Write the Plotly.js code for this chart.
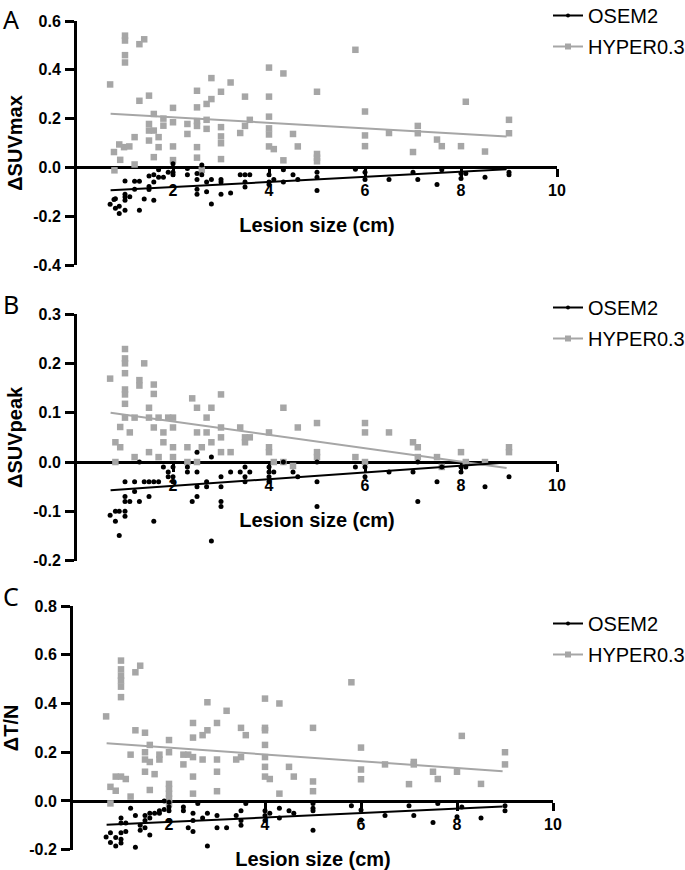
<!DOCTYPE html>
<html><head><meta charset="utf-8">
<script src="https://cdn.plot.ly/plotly-3.0.1.min.js"></script>
<style>html,body{margin:0;padding:0;background:#fff}#chart{width:685px;height:870px}</style>
</head><body><div id="chart"></div>
<script>
// ---------- DATA ----------
const seriesNames = ['OSEM2', 'HYPER0.3'];
const panelLabels = ['A', 'B', 'C'];
const yTitles = ['ΔSUVmax', 'ΔSUVpeak', 'ΔT/N'];
const xTitle = 'Lesion size (cm)';
const xTickVals = [2, 4, 6, 8, 10];
const xTickText = ['2', '4', '6', '8', '10'];
const yTickValsA = [-0.4, -0.2, 0, 0.2, 0.4, 0.6];
const yTickTextA = ['-0.4', '-0.2', '0.0', '0.2', '0.4', '0.6'];
const yTickValsB = [-0.2, -0.1, 0, 0.1, 0.2, 0.3];
const yTickTextB = ['-0.2', '-0.1', '0.0', '0.1', '0.2', '0.3'];
const yTickValsC = [-0.2, 0, 0.2, 0.4, 0.6, 0.8];
const yTickTextC = ['-0.2', '0.0', '0.2', '0.4', '0.6', '0.8'];

// Panel A: [lesion size, ΔSUVmax]
const aHyper = [[0.69,0.34],[0.77,0.063],[0.78,-0.012],[0.88,0.094],[0.9,0.031],[1.0,0.54],[1.0,0.52],[1.0,0.46],[1.0,0.43],[0.98,0.083],[1.09,0.086],[1.2,0.124],[1.2,0.012],[1.3,0.273],[1.3,0.505],[1.4,0.525],[1.5,0.294],[1.5,0.178],[1.5,0.151],[1.5,0.11],[1.6,0.219],[1.6,0.151],[1.6,0.042],[1.7,0.124],[1.7,0.083],[1.8,0.2],[1.8,0.171],[2.0,0.244],[2.0,0.185],[2.0,0.086],[2.0,0.03],[2.3,0.178],[2.3,0.137],[2.5,0.314],[2.5,0.246],[2.5,0.19],[2.5,0.17],[2.5,0.083],[2.5,0.04],[2.6,-0.01],[2.7,0.26],[2.7,0.195],[2.7,0.158],[2.8,0.28],[2.8,0.366],[3.0,0.31],[3.0,0.165],[3.0,0.127],[3.0,0.099],[3.0,0.034],[3.2,0.348],[3.4,0.141],[3.5,0.17],[3.5,0.29],[3.6,0.195],[4.0,0.409],[4.0,0.29],[4.0,0.208],[4.0,0.16],[4.0,0.135],[4.0,0.086],[4.1,0.075],[4.3,0.385],[4.3,0.029],[4.5,0.137],[4.6,0.086],[5.0,0.31],[5.0,0.055],[5.0,0.04],[5.0,0.025],[5.8,0.482],[6.0,0.229],[6.0,0.131],[6.0,0.087],[6.5,0.141],[7.0,0.063],[7.1,0.17],[7.1,0.14],[7.5,0.114],[7.6,0.087],[8.0,0.087],[8.1,0.269],[8.5,0.065],[9.0,0.195],[9.0,0.14]];
const aOsem = [[0.69,-0.151],[0.77,-0.132],[0.8,-0.128],[0.8,-0.167],[0.88,-0.159],[0.88,-0.189],[1.0,-0.176],[1.0,-0.135],[1.0,-0.121],[1.0,-0.11],[1.0,-0.056],[1.1,-0.12],[1.2,-0.057],[1.2,-0.09],[1.3,-0.057],[1.3,-0.176],[1.4,-0.13],[1.5,-0.078],[1.5,-0.091],[1.5,-0.035],[1.6,-0.135],[1.6,-0.06],[1.6,-0.03],[1.7,-0.01],[1.7,-0.04],[1.8,-0.04],[1.9,-0.02],[2.0,0.015],[2.0,-0.02],[2.0,-0.03],[2.3,-0.03],[2.3,-0.004],[2.5,-0.025],[2.5,-0.05],[2.5,-0.09],[2.5,-0.11],[2.6,0.01],[2.6,-0.03],[2.7,-0.06],[2.7,-0.1],[2.8,-0.05],[2.8,-0.15],[3.0,-0.05],[3.0,-0.06],[3.0,-0.11],[3.2,-0.105],[3.4,-0.03],[3.5,-0.03],[3.5,-0.06],[3.5,-0.08],[3.6,-0.03],[4.0,-0.03],[4.0,-0.06],[4.0,-0.07],[4.1,-0.05],[4.3,-0.01],[4.3,-0.06],[4.5,-0.03],[4.6,-0.05],[5.0,-0.02],[5.0,-0.04],[5.0,-0.095],[5.8,-0.008],[6.0,-0.02],[6.0,-0.05],[6.5,-0.05],[7.0,-0.02],[7.1,-0.05],[7.5,-0.07],[7.6,-0.01],[8.0,-0.025],[8.0,-0.045],[8.1,-0.025],[8.5,-0.04],[9.0,-0.02],[9.0,-0.03]];
const aFitX = [0.7, 8.95];
const aHyperFit = [0.22, 0.127];
const aOsemFit = [-0.094, -0.008];

// Panel B: [lesion size, ΔSUVpeak]
const bHyper = [[0.69,0.169],[0.8,0.04],[0.8,0.0],[0.9,0.071],[0.9,0.03],[1.0,0.229],[1.0,0.21],[1.0,0.2],[1.0,0.18],[1.0,0.147],[1.0,0.137],[1.0,0.118],[1.0,0.09],[1.1,0.06],[1.2,0.09],[1.2,0.01],[1.3,0.166],[1.3,0.155],[1.4,0.2],[1.5,0.11],[1.5,0.09],[1.5,0.02],[1.6,0.157],[1.6,0.138],[1.6,0.07],[1.7,0.09],[1.7,0.01],[1.8,0.06],[1.8,0.04],[1.9,0.09],[2.0,0.09],[2.0,0.07],[2.0,0.03],[2.0,0.01],[2.3,0.03],[2.3,0.0],[2.4,0.129],[2.5,0.11],[2.5,0.06],[2.5,0.0],[2.6,0.03],[2.7,0.09],[2.7,0.06],[2.8,0.11],[2.8,0.04],[3.0,0.137],[3.0,0.07],[3.0,0.05],[3.0,0.02],[3.2,0.02],[3.4,0.07],[3.5,0.05],[3.5,0.04],[3.6,0.05],[4.0,0.06],[4.0,0.03],[4.0,0.02],[4.1,0.0],[4.3,0.11],[4.3,0.0],[4.5,-0.008],[4.6,0.07],[5.0,0.079],[5.0,0.02],[5.0,0.01],[5.8,0.01],[6.0,0.079],[6.0,0.06],[6.0,0.0],[6.5,0.06],[7.0,0.04],[7.1,0.03],[7.1,0.01],[7.5,0.01],[7.6,-0.01],[8.0,0.02],[8.1,0.0],[8.5,0.0],[9.0,0.03],[9.0,0.02]];
const bOsem = [[0.69,-0.108],[0.8,-0.1],[0.8,-0.12],[0.88,-0.149],[0.88,-0.1],[1.0,-0.04],[1.0,-0.07],[1.0,-0.08],[1.0,-0.1],[1.0,-0.11],[1.1,-0.08],[1.2,-0.04],[1.2,-0.06],[1.3,0.0],[1.3,-0.08],[1.4,-0.04],[1.5,-0.04],[1.5,-0.07],[1.6,-0.04],[1.6,-0.12],[1.7,-0.04],[1.8,-0.01],[1.9,-0.02],[1.9,-0.03],[2.0,-0.01],[2.0,-0.03],[2.0,-0.04],[2.3,-0.01],[2.3,-0.02],[2.4,-0.08],[2.5,0.02],[2.5,-0.02],[2.5,-0.05],[2.5,-0.07],[2.7,-0.04],[2.7,-0.05],[2.8,0.01],[2.8,-0.16],[3.0,-0.03],[3.0,-0.05],[3.0,-0.08],[3.0,-0.09],[3.2,-0.02],[3.4,-0.02],[3.5,-0.01],[3.5,-0.03],[3.5,-0.04],[3.6,-0.02],[4.0,-0.01],[4.0,-0.02],[4.0,-0.03],[4.0,-0.04],[4.1,-0.02],[4.3,0.0],[4.5,-0.02],[4.6,-0.03],[5.0,0.0],[5.0,-0.04],[5.0,-0.09],[5.8,-0.01],[6.0,-0.01],[6.0,-0.03],[6.5,-0.02],[7.0,-0.02],[7.1,0.0],[7.1,-0.08],[7.5,-0.04],[7.6,-0.01],[8.0,-0.01],[8.0,-0.02],[8.1,-0.01],[8.5,-0.05],[9.0,-0.03]];
const bFitX = [0.7, 8.95];
const bHyperFit = [0.10, -0.012];
const bOsemFit = [-0.057, -0.001];

// Panel C: [lesion size, ΔT/N]
const cHyper = [[0.69,0.347],[0.78,0.058],[0.78,-0.01],[0.89,0.042],[0.89,0.1],[1.0,0.576],[1.0,0.54],[1.0,0.514],[1.0,0.494],[1.0,0.469],[1.0,0.426],[1.0,0.1],[1.1,0.09],[1.2,0.018],[1.2,0.19],[1.3,0.528],[1.3,0.29],[1.4,0.555],[1.5,0.28],[1.5,0.2],[1.5,0.17],[1.5,0.12],[1.6,0.23],[1.6,0.16],[1.6,0.045],[1.7,0.11],[1.8,0.19],[1.8,0.17],[2.0,0.25],[2.0,0.2],[2.0,0.07],[2.0,0.05],[2.0,0.03],[2.0,0.01],[2.0,-0.01],[2.3,0.15],[2.3,0.19],[2.4,0.19],[2.5,0.26],[2.5,0.32],[2.5,0.18],[2.5,0.1],[2.5,0.03],[2.7,0.17],[2.7,0.27],[2.8,0.405],[2.8,0.29],[3.0,0.32],[3.0,0.17],[3.0,0.12],[3.0,0.04],[3.2,0.37],[3.4,0.17],[3.5,0.3],[3.5,0.18],[3.6,0.27],[4.0,0.42],[4.0,0.3],[4.0,0.29],[4.0,0.23],[4.0,0.18],[4.0,0.14],[4.0,0.1],[4.1,0.09],[4.3,0.4],[4.3,0.03],[4.5,0.14],[4.6,0.1],[5.0,0.3],[5.0,0.08],[5.0,0.04],[5.8,0.487],[6.0,0.219],[6.0,0.129],[6.0,0.089],[6.5,0.15],[7.0,0.069],[7.1,0.16],[7.1,0.15],[7.5,0.12],[7.6,0.09],[8.0,0.12],[8.1,0.267],[8.5,0.07],[9.0,0.2],[9.0,0.15]];
const cOsem = [[0.69,-0.148],[0.78,-0.13],[0.78,-0.17],[0.89,-0.185],[0.89,-0.15],[1.0,-0.07],[1.0,-0.09],[1.0,-0.13],[1.0,-0.157],[1.0,-0.173],[1.1,-0.09],[1.1,-0.125],[1.2,-0.03],[1.3,-0.06],[1.3,-0.19],[1.4,-0.12],[1.4,-0.1],[1.5,-0.06],[1.5,-0.08],[1.5,-0.11],[1.6,-0.05],[1.6,-0.07],[1.6,-0.14],[1.7,-0.05],[1.8,-0.05],[1.8,-0.04],[1.9,-0.035],[1.9,0.0],[2.0,-0.005],[2.0,-0.025],[2.0,-0.04],[2.0,-0.08],[2.3,-0.025],[2.3,-0.04],[2.4,-0.11],[2.5,-0.05],[2.5,-0.08],[2.5,-0.125],[2.6,-0.01],[2.7,-0.07],[2.8,-0.05],[2.8,-0.185],[3.0,-0.06],[3.0,-0.11],[3.2,-0.11],[3.4,-0.06],[3.5,-0.04],[3.5,-0.08],[3.5,-0.1],[3.6,-0.01],[4.0,-0.04],[4.0,-0.06],[4.0,-0.08],[4.1,-0.05],[4.3,-0.03],[4.3,-0.07],[4.5,-0.04],[4.6,-0.05],[5.0,-0.01],[5.0,-0.03],[5.0,-0.04],[5.0,-0.12],[5.8,-0.02],[6.0,-0.037],[6.0,-0.078],[6.5,-0.06],[7.0,-0.02],[7.1,-0.06],[7.5,-0.088],[7.6,-0.01],[8.0,-0.065],[8.1,-0.025],[8.5,-0.07],[9.0,-0.02],[9.0,-0.04]];
const cFitX = [0.7, 8.95];
const cHyperFit = [0.237, 0.122];
const cOsemFit = [-0.098, -0.023];

// ---------- STYLE / LAYOUT ----------
const FONT = 'Liberation Sans, Arial, Helvetica, sans-serif';
const GRAY = '#a6a6a6';
const W = 685, H = 870;
const px2x = p => p / W;
const py2y = p => (H - p) / H;

const panels = [
  {hyper: aHyper, osem: aOsem, fitX: aFitX, hyperFit: aHyperFit, osemFit: aOsemFit,
   tv: yTickValsA, tt: yTickTextA, range: [-0.4, 0.6], top: 21, bottom: 265, zero: 167, x0: 77, x10: 557, letterTop: 0},
  {hyper: bHyper, osem: bOsem, fitX: bFitX, hyperFit: bHyperFit, osemFit: bOsemFit,
   tv: yTickValsB, tt: yTickTextB, range: [-0.2, 0.3], top: 314, bottom: 560.7, zero: 462, x0: 77, x10: 557, letterTop: 285},
  {hyper: cHyper, osem: cOsem, fitX: cFitX, hyperFit: cHyperFit, osemFit: cOsemFit,
   tv: yTickValsC, tt: yTickTextC, range: [-0.2, 0.8], top: 606, bottom: 849.7, zero: 801, x0: 73, x10: 553, letterTop: 577}
];
const legendTops = [-4, 288, 604];

const traces = [];
const layout = {
  width: W, height: H, margin: {l: 0, r: 0, t: 0, b: 0, autoexpand: false},
  paper_bgcolor: '#fff', plot_bgcolor: 'rgba(0,0,0,0)',
  showlegend: true, annotations: [], font: {family: FONT, color: '#000'}
};

panels.forEach((p, i) => {
  const sfx = i === 0 ? '' : String(i + 1);
  const xa = 'x' + sfx, ya = 'y' + sfx;
  const lg = 'legend' + sfx;
  traces.push({type: 'scatter', mode: 'markers', xaxis: xa, yaxis: ya, showlegend: false,
    x: p.hyper.map(d => d[0]), y: p.hyper.map(d => d[1]),
    marker: {symbol: 'square', size: 6.5, color: GRAY}, cliponaxis: false});
  traces.push({type: 'scatter', mode: 'markers', xaxis: xa, yaxis: ya, showlegend: false,
    x: p.osem.map(d => d[0]), y: p.osem.map(d => d[1]),
    marker: {symbol: 'circle', size: 5, color: '#000'}, cliponaxis: false});
  traces.push({type: 'scatter', mode: 'lines', xaxis: xa, yaxis: ya, showlegend: false,
    x: p.fitX, y: p.hyperFit, line: {color: GRAY, width: 2}});
  traces.push({type: 'scatter', mode: 'lines', xaxis: xa, yaxis: ya, showlegend: false,
    x: p.fitX, y: p.osemFit, line: {color: '#000', width: 2}});
  // legend keys
  traces.push({type: 'scatter', mode: 'lines+markers', xaxis: xa, yaxis: ya, x: [null], y: [null],
    name: seriesNames[0], legend: lg, legendgroup: 'o' + i,
    line: {color: '#000', width: 2}, marker: {symbol: 'circle', size: 4, color: '#000'}});
  traces.push({type: 'scatter', mode: 'lines+markers', xaxis: xa, yaxis: ya, x: [null], y: [null],
    name: seriesNames[1], legend: lg, legendgroup: 'h' + i,
    line: {color: GRAY, width: 2}, marker: {symbol: 'square', size: 6, color: GRAY}});

  layout['xaxis' + sfx] = {
    domain: [px2x(p.x0), px2x(p.x10)], range: [0, 10], anchor: 'free', position: py2y(p.zero),
    showline: true, linewidth: 3, linecolor: '#000', layer: 'below traces',
    ticks: 'outside', ticklen: 8, tickwidth: 3, tickcolor: '#000',
    tickvals: xTickVals, ticktext: xTickText, ticklabelstandoff: 0,
    tickfont: {family: FONT, size: 16, weight: 700, color: '#000'},
    showgrid: false, zeroline: false, fixedrange: true,
    title: {text: xTitle, font: {family: FONT, size: 20, weight: 700, color: '#000'}, standoff: 19}
  };
  layout['yaxis' + sfx] = {
    domain: [py2y(p.bottom), py2y(p.top)], range: p.range, anchor: xa,
    showline: true, linewidth: 3, linecolor: '#000', layer: 'below traces',
    ticks: 'outside', ticklen: 9, tickwidth: 3, tickcolor: '#000',
    tickvals: p.tv, ticktext: p.tt, ticklabelstandoff: 1,
    tickfont: {family: FONT, size: 16, weight: 700, color: '#000'},
    showgrid: false, zeroline: false, fixedrange: true,
    title: {text: yTitles[i], font: {family: FONT, size: 20, weight: 700, color: '#000'}, standoff: 6}
  };
  layout[lg] = {
    x: px2x(548), xanchor: 'left', y: py2y(legendTops[i]), yanchor: 'top',
    font: {family: FONT, size: 20, color: '#000'}, bgcolor: 'rgba(0,0,0,0)',
    tracegroupgap: 2, itemwidth: 30, traceorder: 'grouped'
  };
  layout.annotations.push({xref: 'paper', yref: 'paper', x: px2x(11), y: py2y(p.letterTop),
    xanchor: 'center', yanchor: 'top', showarrow: false, text: panelLabels[i],
    font: {family: 'Noto Sans, DejaVu Sans, sans-serif', size: 25, color: '#000'}});
});

Plotly.newPlot('chart', traces, layout, {displayModeBar: false, staticPlot: true});
</script>
</body></html>
